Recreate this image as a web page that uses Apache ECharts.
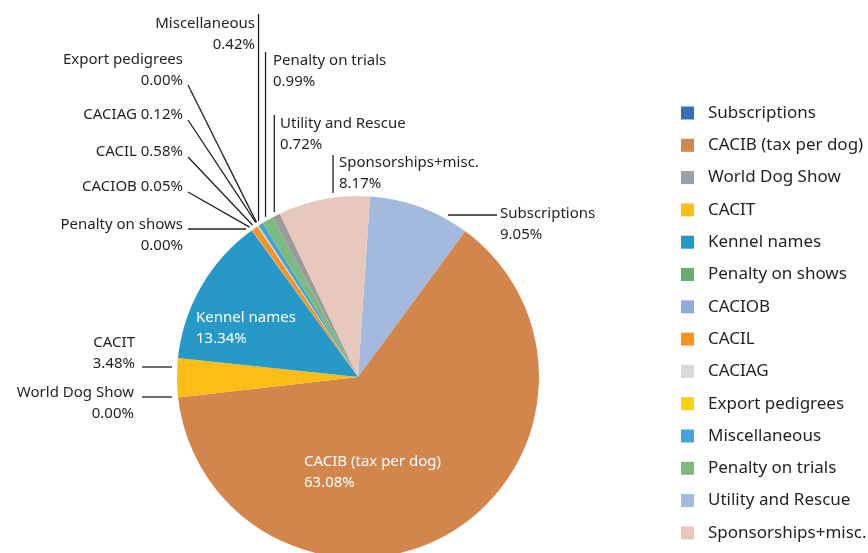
<!DOCTYPE html>
<html>
<head>
<meta charset="utf-8">
<script src="https://cdn.jsdelivr.net/npm/echarts@6/dist/echarts.min.js"></script>
<style>
html,body{margin:0;padding:0;background:#fff;}
#chart{width:868px;height:553px;}
</style>
</head>
<body>
<div id="chart"></div>
<script>
// ---- data ----
const categories = ["Subscriptions","CACIB (tax per dog)","World Dog Show","CACIT","Kennel names","Penalty on shows","CACIOB","CACIL","CACIAG","Export pedigrees","Miscellaneous","Penalty on trials","Utility and Rescue","Sponsorships+misc."];
const values = [9.05, 63.08, 0.00, 3.48, 13.34, 0.00, 0.05, 0.58, 0.12, 0.00, 0.42, 0.99, 0.72, 8.17];
const singleLineLabels = ["CACIOB","CACIL","CACIAG"];

// ---- styles ----
const sliceColors = ["#a3b9de","#d3864b","#9aa0a8","#fbbd16","#2699c9","#6cb273","#8eacd8","#f7941d","#d9d9d9","#ffd200","#44a3dc","#7bba7e","#9b9b9b","#e8c8bc"];
const legendColors = ["#3470b8","#d3864b","#9aa0a8","#fbbd16","#2699c9","#67ad6e","#8eacd8","#f7941d","#d9d9d9","#ffd200","#44a3dc","#7cb97f","#a3b9de","#e8c8bc"];
const FONT = "Noto Sans";
const TEXT = "#231f20";
const CX = 358, CY = 377, R = 181, START = 86.2;

// label layout (text anchor x, block centre y, alignment, leader line)
const labelLayoutCfg = {
  "Subscriptions":      {x:500, y:224, align:"left",  line:[[448,215],[497,215]]},
  "CACIB (tax per dog)":{x:304, y:472, align:"left"},
  "World Dog Show":     {x:134, y:403, align:"right", line:[[142,397],[172,397]]},
  "CACIT":              {x:135, y:353, align:"right", line:[[142,367],[172,367]]},
  "Kennel names":       {x:196, y:328, align:"left"},
  "Penalty on shows":   {x:183, y:235, align:"right", line:[[188,229],[246,229]]},
  "CACIOB":             {x:183, y:187, align:"right", diag:[188,192]},
  "CACIL":              {x:183, y:152, align:"right", diag:[188,157]},
  "CACIAG":             {x:183, y:115, align:"right", diag:[188,120]},
  "Export pedigrees":   {x:183, y:70,  align:"right", diag:[188,85]},
  "Miscellaneous":      {x:255, y:34,  align:"right", vert:14},
  "Penalty on trials":  {x:273, y:71,  align:"left",  vert:52},
  "Utility and Rescue": {x:280, y:134, align:"left",  vert:115},
  "Sponsorships+misc.": {x:339, y:173, align:"left",  line:[[333,155],[333,193]]}
};

const total = values.reduce((a,b)=>a+b,0);
function edgePoint(i, r){
  let before = 0;
  for (let k=0;k<i;k++) before += values[k];
  const frac = (before + values[i]/2)/total;
  const ang = ((90-START) + frac*360) * Math.PI/180;
  return [CX + r*Math.sin(ang), CY - r*Math.cos(ang)];
}

const insideNames = ["Kennel names","CACIB (tax per dog)"];
const seriesData = categories.map((n,i)=>{
  const inside = insideNames.indexOf(n) >= 0;
  return {
    name:n, value:values[i],
    itemStyle:{color:sliceColors[i]},
    label: inside ? {position:"inside", color:"#ffffff"} : {position:"outside", color:TEXT},
    labelLine: {show: !inside}
  };
});

const chart = echarts.init(document.getElementById('chart'), null, {renderer:'canvas'});
chart.setOption({
  animation:false,
  backgroundColor:'#ffffff',
  legend:{
    orient:'vertical',
    left:681, top:104.5,
    padding:0,
    itemWidth:13, itemHeight:13, itemGap:15.3,
    icon:'rect',
    selectedMode:false,
    textStyle:{fontFamily:FONT, fontSize:17, color:TEXT, lineHeight:17, padding:[0,0,0,9]},
    data: categories.map((n,i)=>({name:n, itemStyle:{color:legendColors[i]}}))
  },
  series:[{
    type:'pie',
    center:[CX, CY],
    radius:R,
    startAngle:START,
    clockwise:true,
    avoidLabelOverlap:false,
    data:seriesData,
    label:{
      fontFamily:FONT, fontSize:15, lineHeight:21,
      formatter:(p)=> p.name + (singleLineLabels.indexOf(p.name)>=0 ? ' ' : '\n') + p.value.toFixed(2) + '%'
    },
    labelLine:{show:true, lineStyle:{color:TEXT, width:1.3}, length:10, length2:10},
    emphasis:{disabled:true},
    labelLayout:function(params){
      const i = params.dataIndex;
      const cfg = labelLayoutCfg[categories[i]];
      const out = {x:cfg.x, y:cfg.y, align:cfg.align, verticalAlign:'middle'};
      if (cfg.line) out.labelLinePoints = cfg.line;
      else if (cfg.diag) out.labelLinePoints = [cfg.diag, edgePoint(i, R+4)];
      else if (cfg.vert !== undefined) {
        const e = edgePoint(i, R+4);
        out.labelLinePoints = [[e[0], cfg.vert],[e[0], e[1]]];
      }
      return out;
    }
  }]
});
</script>
</body>
</html>
